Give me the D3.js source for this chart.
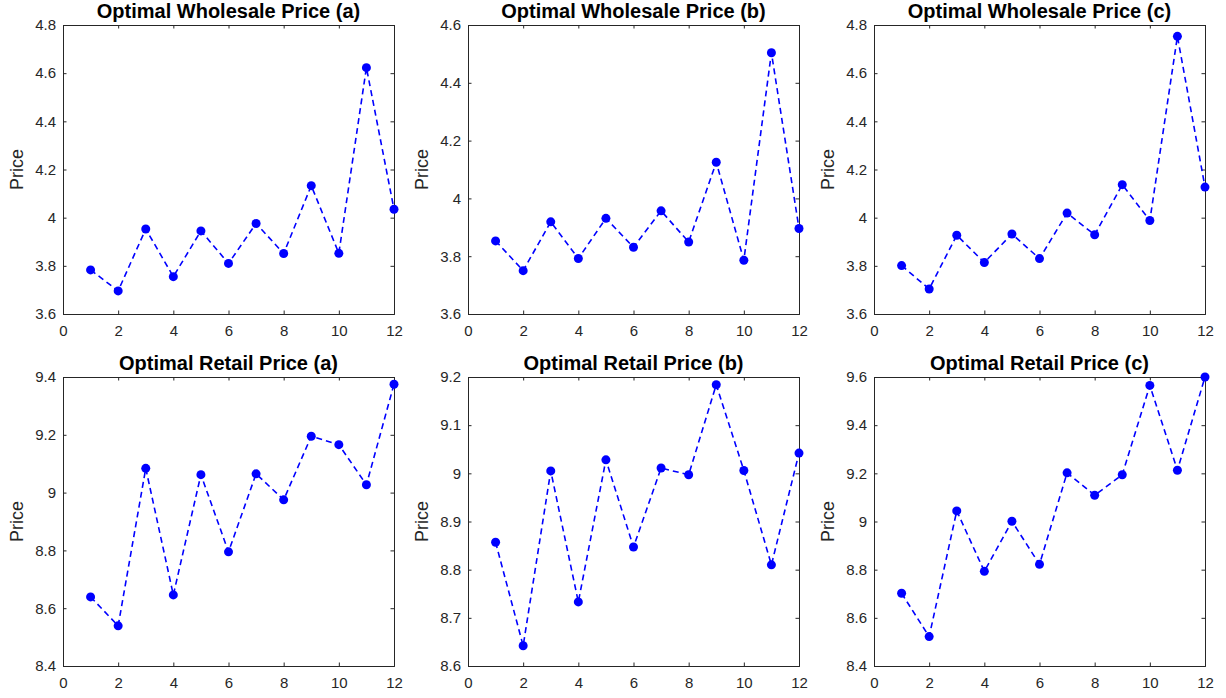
<!DOCTYPE html>
<html>
<head>
<meta charset="utf-8">
<script src="https://cdn.jsdelivr.net/npm/d3@7"></script>
<style>
  body { margin: 0; background: #fff; }
  svg { display: block; font-family: "Liberation Sans", Arial, sans-serif; }
</style>
</head>
<body>
<svg id="chart" width="1226" height="698"></svg>
<script>
const periods = [1, 2, 3, 4, 5, 6, 7, 8, 9, 10, 11, 12];

const wholesaleA = [3.783, 3.696, 3.953, 3.755, 3.945, 3.810, 3.976, 3.851, 4.133, 3.852, 4.623, 4.035];
const wholesaleB = [3.853, 3.750, 3.919, 3.792, 3.931, 3.831, 3.957, 3.849, 4.125, 3.786, 4.504, 3.896];
const wholesaleC = [3.801, 3.704, 3.927, 3.814, 3.932, 3.830, 4.019, 3.929, 4.137, 3.988, 4.753, 4.127];
const retailA = [8.639, 8.539, 9.084, 8.646, 9.062, 8.795, 9.065, 8.975, 9.195, 9.166, 9.027, 9.375];
const retailB = [8.857, 8.642, 9.005, 8.733, 9.028, 8.847, 9.011, 8.997, 9.184, 9.006, 8.810, 9.042];
const retailC = [8.702, 8.522, 9.044, 8.793, 9.001, 8.822, 9.202, 9.109, 9.194, 9.565, 9.213, 9.600];

const titles = [
  'Optimal Wholesale Price (a)', 'Optimal Wholesale Price (b)', 'Optimal Wholesale Price (c)',
  'Optimal Retail Price (a)', 'Optimal Retail Price (b)', 'Optimal Retail Price (c)'
];
const series = [wholesaleA, wholesaleB, wholesaleC, retailA, retailB, retailC];
const yDomains = [[3.6, 4.8], [3.6, 4.6], [3.6, 4.8], [8.4, 9.4], [8.6, 9.2], [8.4, 9.6]];
const yTickSteps = [0.2, 0.2, 0.2, 0.2, 0.1, 0.2];
const xTicks = [0, 2, 4, 6, 8, 10, 12];

const svg = d3.select('#chart');
const colLeft = [63, 468, 874];
const rowTop = [25, 377];
const plotW = 331, plotH = 289;
const axisColour = '#262626';
const lineColour = '#0000ff';
const tickLen = 3.5;

series.forEach((values, i) => {
  const col = i % 3, row = Math.floor(i / 3);
  const g = svg.append('g')
    .attr('transform', `translate(${colLeft[col]},${rowTop[row]})`);

  const x = d3.scaleLinear().domain([0, 12]).range([0, plotW]);
  const y = d3.scaleLinear().domain(yDomains[i]).range([plotH, 0]);

  const [y0, y1] = yDomains[i];
  const step = yTickSteps[i];
  const yTicks = d3.range(Math.round((y1 - y0) / step) + 1).map(k => +(y0 + k * step).toFixed(2));

  // bottom + left axes, ticks pointing inside
  g.append('g')
    .attr('transform', `translate(0,${plotH})`)
    .call(d3.axisBottom(x).tickValues(xTicks).tickSize(-tickLen).tickPadding(11).tickFormat(d3.format('d')));
  g.append('g')
    .call(d3.axisLeft(y).tickValues(yTicks).tickSize(-tickLen).tickPadding(7).tickFormat(d => d3.format('')(d)));

  // mirrored ticks on top and right
  g.append('g')
    .call(d3.axisTop(x).tickValues(xTicks).tickSize(-tickLen).tickFormat(''));
  g.append('g')
    .attr('transform', `translate(${plotW},0)`)
    .call(d3.axisRight(y).tickValues(yTicks).tickSize(-tickLen).tickFormat(''));

  g.selectAll('.domain').attr('stroke', axisColour).attr('stroke-width', 1);
  g.selectAll('.tick line').attr('stroke', axisColour);
  g.selectAll('.tick text')
    .attr('fill', axisColour)
    .style('font-size', '15px')
    .style('font-family', '"Liberation Sans", Arial, sans-serif');

  // data line
  const line = d3.line()
    .x((d, k) => x(periods[k]))
    .y(d => y(d));

  g.append('path')
    .datum(values)
    .attr('fill', 'none')
    .attr('stroke', lineColour)
    .attr('stroke-width', 1.6)
    .attr('stroke-dasharray', '6,4')
    .attr('d', line);

  g.selectAll('circle.pt')
    .data(values)
    .join('circle')
    .attr('class', 'pt')
    .attr('cx', (d, k) => x(periods[k]))
    .attr('cy', d => y(d))
    .attr('r', 4.5)
    .attr('fill', lineColour);

  // title
  g.append('text')
    .attr('x', plotW / 2)
    .attr('y', -7)
    .attr('text-anchor', 'middle')
    .style('font-size', '20px')
    .style('font-weight', 'bold')
    .attr('fill', '#000')
    .text(titles[i]);

  // y label
  g.append('text')
    .attr('transform', `translate(-40,${plotH / 2}) rotate(-90)`)
    .attr('text-anchor', 'middle')
    .style('font-size', '18px')
    .attr('fill', axisColour)
    .text('Price');
});
</script>
</body>
</html>
